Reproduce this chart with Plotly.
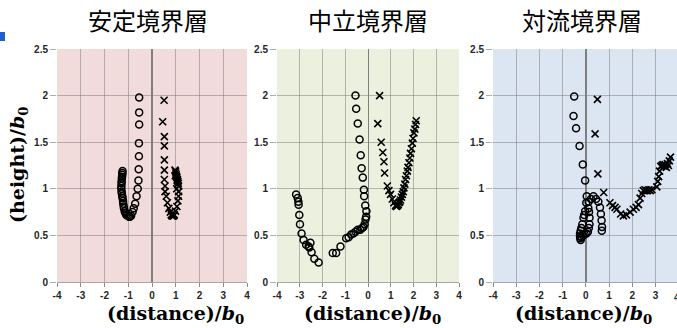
import plotly.graph_objects as go

# ---------------- data ----------------
titles = ["安定境界層", "中立境界層", "対流境界層"]
x_ticks = [-4, -3, -2, -1, 0, 1, 2, 3, 4]
y_ticks = [0, 0.5, 1, 1.5, 2, 2.5]
y_tick_labels = ["0", "0.5", "1", "1.5", "2", "2.5"]

stable_circle_x = [-0.54, -0.54, -0.54, -0.55, -0.55, -0.56, -0.57, -0.60, -0.65, -0.71, -0.77, -0.82,
                   -0.88, -0.93, -0.97, -1.02, -1.08, -1.12, -1.15, -1.18, -1.19, -1.21, -1.22, -1.24,
                   -1.25, -1.27, -1.28, -1.29, -1.29, -1.28, -1.28, -1.27, -1.26, -1.25, -1.25, -1.24]
stable_circle_y = [1.98, 1.82, 1.69, 1.49, 1.35, 1.21, 1.09, 1.00, 0.92, 0.84, 0.79, 0.75,
                   0.71, 0.70, 0.70, 0.71, 0.72, 0.74, 0.76, 0.79, 0.81, 0.84, 0.87, 0.90,
                   0.92, 0.95, 0.97, 1.00, 1.03, 1.06, 1.08, 1.11, 1.13, 1.15, 1.17, 1.19]
stable_cross_x = [0.51, 0.45, 0.52, 0.52, 0.52, 0.52, 0.52, 0.55, 0.55, 0.60, 0.65, 0.71, 0.77,
                  0.81, 0.84, 0.88, 0.91, 0.94, 0.99, 1.05, 1.09, 1.12, 1.12, 1.12, 1.11, 1.09,
                  1.07, 1.05, 1.02, 0.99, 0.97, 1.00, 1.03, 1.06, 1.08, 1.04, 0.98]
stable_cross_y = [1.95, 1.72, 1.56, 1.46, 1.31, 1.20, 1.10, 1.03, 0.97, 0.92, 0.85, 0.79, 0.75,
                  0.72, 0.71, 0.71, 0.71, 0.72, 0.76, 0.81, 0.87, 0.92, 0.97, 1.03, 1.06, 1.08,
                  1.10, 1.12, 1.15, 1.19, 1.20, 1.17, 1.13, 1.09, 1.05, 1.00, 1.14]

neutral_circle_x = [-0.55, -0.52, -0.45, -0.37, -0.32, -0.28, -0.23, -0.18, -0.17, -0.12, -0.07, -0.08,
                    -0.11, -0.15, -0.20, -0.26, -0.34, -0.45, -0.55, -0.64, -0.74, -0.85, -0.96,
                    -1.21, -1.40, -1.55, -2.17, -2.36, -2.48, -2.58, -2.53, -2.61, -2.72, -2.83,
                    -2.92, -2.99, -3.02, -3.05, -3.06, -3.09, -3.16]
neutral_circle_y = [2.00, 1.86, 1.70, 1.53, 1.36, 1.22, 1.12, 0.99, 0.92, 0.82, 0.76, 0.70,
                    0.67, 0.62, 0.59, 0.58, 0.56, 0.56, 0.54, 0.52, 0.51, 0.48, 0.47,
                    0.38, 0.31, 0.31, 0.21, 0.25, 0.32, 0.37, 0.42, 0.38, 0.40, 0.45,
                    0.52, 0.62, 0.72, 0.83, 0.86, 0.90, 0.94]
neutral_cross_x = [0.51, 0.43, 0.58, 0.65, 0.70, 0.73, 0.85, 0.92, 0.99, 1.07, 1.14, 1.21, 1.25,
                   1.29, 1.33, 1.36, 1.40, 1.43, 1.47, 1.51, 1.55, 1.58, 1.62, 1.65, 1.69, 1.73,
                   1.76, 1.80, 1.84, 1.87, 1.91, 1.95, 1.98, 2.02, 2.06, 2.09, 2.12]
neutral_cross_y = [2.00, 1.70, 1.50, 1.39, 1.29, 1.17, 1.03, 0.98, 0.94, 0.89, 0.85, 0.82, 0.81,
                   0.82, 0.83, 0.85, 0.86, 0.88, 0.91, 0.94, 0.97, 1.01, 1.05, 1.10, 1.14, 1.19,
                   1.23, 1.28, 1.33, 1.38, 1.43, 1.49, 1.54, 1.60, 1.64, 1.69, 1.73]

convective_circle_x = [-0.50, -0.53, -0.42, -0.27, -0.13, -0.03, 0.04, 0.02, -0.03, -0.07, -0.10, -0.15,
                       -0.19, -0.22, -0.25, -0.25, -0.24, -0.22, -0.18, -0.12, -0.05, 0.03, 0.09,
                       0.13, 0.16, 0.16, 0.14, 0.11, 0.12, 0.22, 0.33, 0.44, 0.54, 0.61, 0.65,
                       0.68, 0.70, 0.69]
convective_circle_y = [1.99, 1.78, 1.65, 1.46, 1.26, 1.09, 0.92, 0.85, 0.76, 0.72, 0.69, 0.62,
                       0.58, 0.55, 0.52, 0.49, 0.47, 0.45, 0.48, 0.50, 0.51, 0.52, 0.54,
                       0.58, 0.62, 0.69, 0.75, 0.79, 0.86, 0.89, 0.92, 0.89, 0.86, 0.80, 0.73,
                       0.66, 0.59, 0.55]
convective_cross_x = [0.50, 0.40, 0.52, 0.77, 1.04, 1.15, 1.26, 1.34, 1.50, 1.62, 1.75, 1.91, 2.05,
                      2.17, 2.27, 2.34, 2.41, 2.48, 2.55, 2.60, 2.66, 2.72, 2.78, 2.85, 3.06, 3.10,
                      3.14, 3.18, 3.23, 3.28, 3.33, 3.38, 3.42, 3.47, 3.52, 3.56, 3.60, 3.65]
convective_cross_y = [1.96, 1.59, 1.16, 0.96, 0.85, 0.82, 0.80, 0.78, 0.73, 0.71, 0.72, 0.75, 0.78,
                      0.80, 0.83, 0.90, 0.95, 0.98, 0.99, 0.98, 0.98, 0.99, 0.98, 0.99, 1.02, 1.08,
                      1.13, 1.19, 1.24, 1.25, 1.26, 1.24, 1.26, 1.23, 1.27, 1.25, 1.30, 1.34]

panels = [
    (stable_circle_x, stable_circle_y, stable_cross_x, stable_cross_y),
    (neutral_circle_x, neutral_circle_y, neutral_cross_x, neutral_cross_y),
    (convective_circle_x, convective_circle_y, convective_cross_x, convective_cross_y),
]

# ---------------- layout ----------------
W, H = 677, 328
bg_colors = ["#F2DCDB", "#EBF1DE", "#DCE6F2"]
zero_w = [2, 1.2, 1.6]
x_px = [(57, 247), (277, 459), (493, 677)]
x_ranges = [[-4, 4], [-4, 4], [-4, 3.93]]
y_px = (49, 282)
title_cx = [148, 368, 582]
xtitle_cx = [176, 372, 583]

fig = go.Figure()
tick_font = dict(family="Liberation Sans", size=10, color="#262626")

for i, (cx, cy, kx, ky) in enumerate(panels):
    n = "" if i == 0 else str(i + 1)
    fig.add_trace(go.Scatter(
        x=cx, y=cy, mode="markers", xaxis="x" + n, yaxis="y" + n, showlegend=False,
        marker=dict(symbol="circle-open", size=7, color="black", line=dict(width=1.5, color="black"))))
    fig.add_trace(go.Scatter(
        x=kx, y=ky, mode="markers", xaxis="x" + n, yaxis="y" + n, showlegend=False,
        marker=dict(symbol="x-thin-open", size=7, color="black", line=dict(width=1.6, color="black"))))
    x0, x1 = x_px[i]
    fig.layout["xaxis" + n] = dict(
        domain=[x0 / W, x1 / W], range=x_ranges[i], anchor="y" + n, automargin=False,
        tickmode="array", tickvals=x_ticks, ticktext=[f"<b>{v}</b>" for v in x_ticks],
        tickfont=tick_font, ticks="outside", ticklen=4, tickcolor="#8C8C8C",
        showgrid=True, gridcolor="rgba(120,120,120,0.5)", gridwidth=1,
        zeroline=True, zerolinecolor="#7F7F7F", zerolinewidth=zero_w[i],
        showline=True, linecolor="#A6A6A6", linewidth=1, fixedrange=True)
    fig.layout["yaxis" + n] = dict(
        domain=[(H - y_px[1]) / H, (H - y_px[0]) / H], range=[0, 2.5], anchor="x" + n,
        automargin=False,
        tickmode="array", tickvals=y_ticks, ticktext=[f"<b>{t}</b>" for t in y_tick_labels],
        tickfont=tick_font, ticks="outside", ticklen=6, tickcolor="rgba(120,120,120,0.6)",
        showgrid=True, gridcolor="rgba(120,120,120,0.5)", gridwidth=1,
        zeroline=False, showline=False, fixedrange=True)

# plot backgrounds per panel via shapes
shapes = []
for i in range(3):
    n = "" if i == 0 else str(i + 1)
    shapes.append(dict(type="rect", xref="x" + n + " domain", yref="y" + n + " domain",
                       x0=0, x1=1, y0=0, y1=1, fillcolor=bg_colors[i], line=dict(width=0),
                       layer="below"))
# small screenshot artifact at the left edge
shapes.append(dict(type="rect", xref="paper", yref="paper", x0=0, x1=5 / W,
                   y0=(H - 41) / H, y1=(H - 32) / H, fillcolor="#1F5FD0", line=dict(width=0)))

annotations = []
for i in range(3):
    annotations.append(dict(text=titles[i], xref="paper", yref="paper", x=title_cx[i] / W,
                            y=(H - 19) / H, xanchor="center", yanchor="middle", showarrow=False,
                            font=dict(family="Noto Sans CJK JP", size=24, color="black")))
    annotations.append(dict(text="<b>(distance)/<i>b</i><sub>0</sub></b>", xref="paper", yref="paper",
                            x=xtitle_cx[i] / W, y=(H - 314) / H, xanchor="center", yanchor="middle",
                            showarrow=False,
                            font=dict(family="DejaVu Serif", size=19, color="black")))
annotations.append(dict(text="<b>(height)/<i>b</i><sub>0</sub></b>", xref="paper", yref="paper",
                        x=18 / W, y=(H - 165) / H, xanchor="center", yanchor="middle",
                        textangle=-90, showarrow=False,
                        font=dict(family="DejaVu Serif", size=19, color="black")))
# partially visible "4" tick label at the cut right edge of the third panel
annotations.append(dict(text="<b>4</b>", xref="paper", yref="paper", x=672 / W,
                        y=(H - 297) / H, xanchor="left", yanchor="middle", showarrow=False,
                        font=tick_font))

fig.update_layout(width=W, height=H, margin=dict(l=0, r=0, t=0, b=0, autoexpand=False),
                  paper_bgcolor="white", plot_bgcolor="rgba(0,0,0,0)",
                  shapes=shapes, annotations=annotations)

fig.write_html("out.html", config={"displayModeBar": False},
               post_script="document.body.style.margin='0';document.body.style.overflow='hidden';")
